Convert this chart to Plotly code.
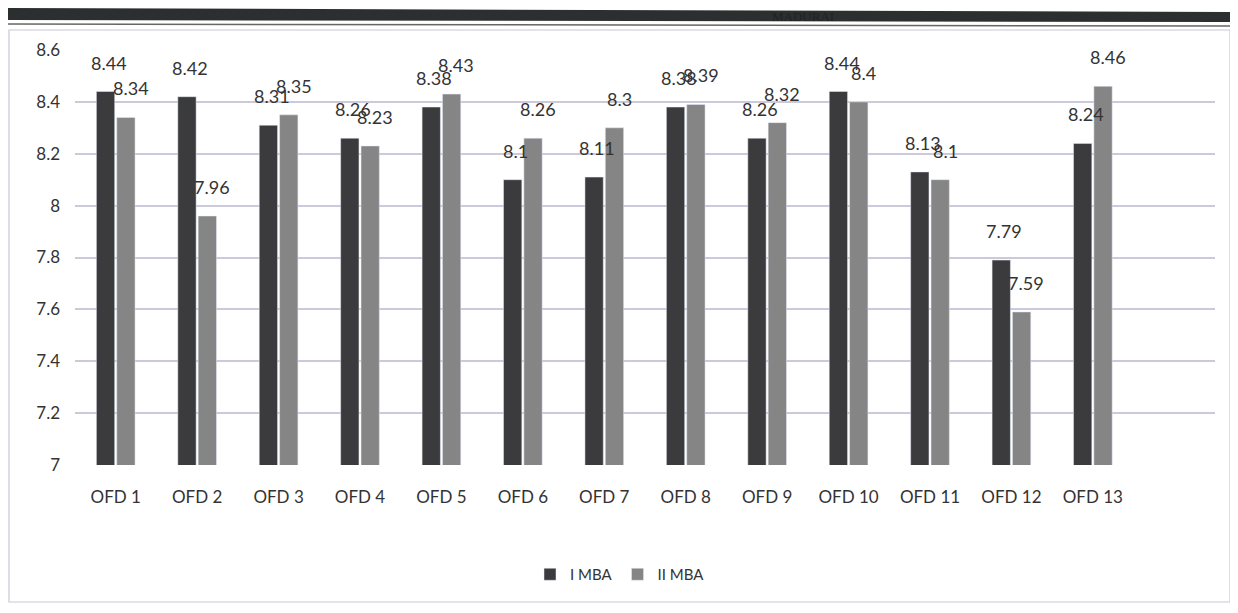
import plotly.graph_objects as go

categories = ["OFD 1", "OFD 2", "OFD 3", "OFD 4", "OFD 5", "OFD 6", "OFD 7",
              "OFD 8", "OFD 9", "OFD 10", "OFD 11", "OFD 12", "OFD 13"]
mba1 = [8.44, 8.42, 8.31, 8.26, 8.38, 8.1, 8.11, 8.38, 8.26, 8.44, 8.13, 7.79, 8.24]
mba2 = [8.34, 7.96, 8.35, 8.23, 8.43, 8.26, 8.3, 8.39, 8.32, 8.4, 8.1, 7.59, 8.46]
y_ticks = [7, 7.2, 7.4, 7.6, 7.8, 8, 8.2, 8.4, 8.6]

font = "Lato, Open Sans, sans-serif"
W, H = 1230, 605
L, R, T, B = 67, 23, 42, 148
PW, PH = W - L - R, H - T - B


def px(x):
    return (x - L) / PW


def py(y):
    return 1 - (y - T) / PH


fig = go.Figure()
fig.add_trace(go.Bar(x=categories, y=mba1, name="I MBA", marker_color="#3b3b3d"))
fig.add_trace(go.Bar(x=categories, y=mba2, name="II MBA", marker_color="#858585"))

annotations = []
for series, shift in ((mba1, -7), (mba2, 15)):
    for c, v in zip(categories, series):
        annotations.append(dict(x=c, y=v, xref="x", yref="y", text=f"{v:g}",
                                showarrow=False, xshift=shift, yshift=16,
                                yanchor="bottom", xanchor="center",
                                font=dict(family=font, size=18, color="#333333")))

annotations.append(dict(text="MADURAI", xref="paper", yref="paper", x=px(795), y=py(-1),
                        xanchor="center", yanchor="top", showarrow=False,
                        font=dict(family="Liberation Serif, serif", size=13, color="#222")))

fig.update_layout(
    width=W, height=H,
    paper_bgcolor="white", plot_bgcolor="white",
    margin=dict(l=L, r=R, t=T, b=B, autoexpand=False),
    barmode="group", bargap=0.5, bargroupgap=0.1,
    font=dict(family=font, color="#333333"),
    xaxis=dict(range=[-0.5, 13.5], tickfont=dict(size=17, color="#333333"),
               showgrid=False, showline=False, ticks="", ticklabelstandoff=20),
    yaxis=dict(range=[7, 8.6], tickvals=y_ticks, ticktext=[f"{v:g}" for v in y_ticks],
               tickfont=dict(size=17, color="#333333"), gridcolor="#cdc9dc",
               gridwidth=1.5, zeroline=False, showline=False, ticks="",
               ticklabelstandoff=14),
    legend=dict(orientation="h", x=px(612), xanchor="center", y=py(550), yanchor="top",
                font=dict(size=15, color="#333333"), itemwidth=30,
                traceorder="normal"),
    showlegend=True,
    annotations=annotations,
    shapes=[
        dict(type="path", xref="paper", yref="paper",
             path=f"M {px(0)},{py(0)} L {px(1222)},{py(4)} L {px(1222)},{py(14)} L {px(0)},{py(12)} Z",
             fillcolor="#2b2f2f", line=dict(width=0)),
        dict(type="line", xref="paper", yref="paper", x0=px(0), x1=px(1222), y0=py(16), y1=py(18),
             line=dict(color="#666", width=1.5)),
        dict(type="rect", xref="paper", yref="paper", x0=px(1), x1=px(1222), y0=py(594), y1=py(22),
             line=dict(color="#c8c8d4", width=1.2)),
    ],
)

fig.write_html("out.html")
